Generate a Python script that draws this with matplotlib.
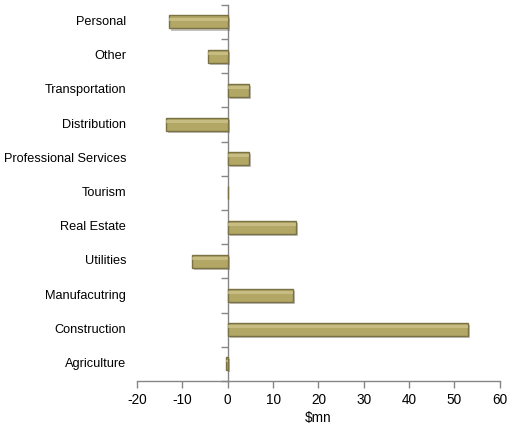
import matplotlib
matplotlib.use("Agg")
import matplotlib.pyplot as plt
import matplotlib.patheffects as pe
from matplotlib.transforms import blended_transform_factory

plt.rcParams['font.family'] = ['Liberation Sans', 'DejaVu Sans']

# sectors, bottom to top
sectors = ['Agriculture', 'Construction', 'Manufacutring', 'Utilities', 'Real Estate',
           'Tourism', 'Professional Services', 'Distribution', 'Transportation',
           'Other', 'Personal']
values = [-0.3, 52.9, 14.3, -7.9, 15.1, 0.1, 4.6, -13.5, 4.6, -4.4, -12.9]

x_ticks = [-20, -10, 0, 10, 20, 30, 40, 50, 60]

axis_grey = '#868686'
bar_face = '#b3a766'
bar_edge = '#7a7145'
bar_hi = '#d6cd96'
fs = 9.2

fig = plt.figure(figsize=(5.09, 4.43), dpi=100)
ax = fig.add_axes([0.269, 0.14, 0.713, 0.849])

pos = list(range(len(sectors)))
h = 0.38
bars = ax.barh(pos, values, height=h, color=bar_face, edgecolor=bar_edge,
               linewidth=1.0, zorder=3)
for b in bars:
    b.set_path_effects([pe.SimplePatchShadow(offset=(1.5, -1.5), alpha=0.35,
                                             shadow_rgbFace='#555555'),
                        pe.Normal()])
# bevel highlight along the top of each bar
ax.barh([p + h * 0.22 for p in pos], values, height=h * 0.22, color=bar_hi,
        linewidth=0, alpha=0.6, zorder=4)

ax.set_xlim(-20, 60)
ax.set_ylim(-0.5, len(sectors) - 0.5)
ax.set_xticks(x_ticks)
ax.set_xticklabels([str(t) for t in x_ticks], fontsize=fs + 0.6)

# y axis sits at zero, ticks between categories
ax.set_yticks([p - 0.5 for p in range(len(sectors) + 1)])
ax.set_yticklabels([])
ax.spines['left'].set_position(('data', 0))
trans = blended_transform_factory(ax.transAxes, ax.transData)
for p, name in zip(pos, sectors):
    ax.text(-0.03, p, name, transform=trans, ha='right', va='center', fontsize=fs)

for s in ['top', 'right']:
    ax.spines[s].set_visible(False)
for s in ['left', 'bottom']:
    ax.spines[s].set_color(axis_grey)
    ax.spines[s].set_linewidth(1.0)
ax.tick_params(axis='both', colors=axis_grey, length=5, width=1.0, labelcolor='black')

ax.set_xlabel('$mn', fontsize=fs + 0.6, labelpad=3)

fig.savefig('out.png', dpi=100)
